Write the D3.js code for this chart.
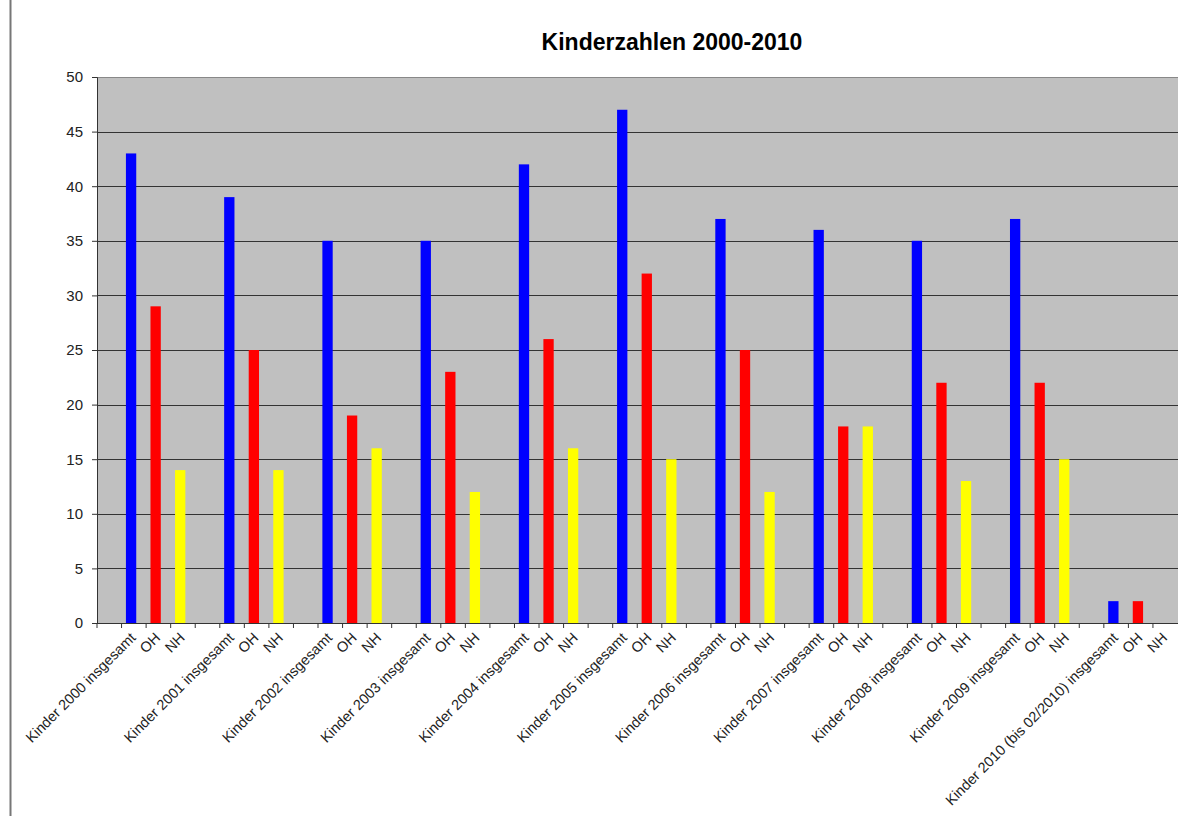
<!DOCTYPE html>
<html>
<head>
<meta charset="utf-8">
<script src="https://cdn.jsdelivr.net/npm/d3@7"></script>
<style>
  body { margin: 0; background: #fff; }
  svg { font-family: Arial, "Liberation Sans", sans-serif; }
</style>
</head>
<body>
<div id="chart"></div>
<script>
// years and per-year values (insgesamt, OH, NH)
const years = ['2000', '2001', '2002', '2003', '2004', '2005', '2006', '2007', '2008', '2009', '2010 (bis 02/2010)'];
const insgesamt = [43, 39, 35, 35, 42, 47, 37, 36, 35, 37, 2];
const oh = [29, 25, 19, 23, 26, 32, 25, 18, 22, 22, 2];
const nh = [14, 14, 16, 12, 16, 15, 12, 18, 13, 15, 0];
const yTicks = [0, 5, 10, 15, 20, 25, 30, 35, 40, 45, 50];
const colors = ['#0000ff', '#ff0000', '#ffff00'];

// each year: an empty slot, then insgesamt / OH / NH
const rows = [];
years.forEach((y, i) => {
  rows.push({ key: 'gap' + i, label: '', value: null });
  rows.push({ key: 'ins' + i, label: 'Kinder ' + y + ' insgesamt', value: insgesamt[i], c: colors[0] });
  rows.push({ key: 'oh' + i, label: 'OH', value: oh[i], c: colors[1] });
  rows.push({ key: 'nh' + i, label: 'NH', value: nh[i], c: colors[2] });
});

const width = 1179, height = 816;
const margin = { top: 77, right: 1, bottom: 193, left: 97 };

const svg = d3.select('#chart')
  .append('svg')
  .attr('width', width)
  .attr('height', height);

// left frame line
svg.append('line')
  .attr('x1', 10.5).attr('x2', 10.5)
  .attr('y1', 0).attr('y2', height)
  .attr('stroke', '#777').attr('stroke-width', 2);

svg.append('text')
  .attr('x', 672).attr('y', 50)
  .attr('text-anchor', 'middle')
  .style('font-size', '23px')
  .style('font-weight', 'bold')
  .text('Kinderzahlen 2000-2010');

const x = d3.scaleBand()
  .domain(rows.map(d => d.key))
  .range([margin.left, width - margin.right])
  .paddingInner(0.58)
  .paddingOuter(0.3);

const y = d3.scaleLinear()
  .domain([0, 50])
  .range([height - margin.bottom, margin.top]);

const plotRight = width - margin.right;

svg.append('rect')
  .attr('x', margin.left).attr('y', margin.top)
  .attr('width', plotRight - margin.left)
  .attr('height', y(0) - margin.top)
  .attr('fill', '#c0c0c0');

// grid lines
svg.append('g')
  .selectAll('line')
  .data(yTicks.filter(t => t > 0))
  .join('line')
  .attr('x1', margin.left).attr('x2', plotRight)
  .attr('y1', d => Math.round(y(d)) + 0.5)
  .attr('y2', d => Math.round(y(d)) + 0.5)
  .attr('stroke', d => d === 50 ? '#888' : '#333')
  .attr('stroke-width', 1);

// bars
svg.append('g')
  .selectAll('rect')
  .data(rows.filter(d => d.value !== null))
  .join('rect')
  .attr('x', d => x(d.key) - 3)
  .attr('y', d => y(d.value))
  .attr('width', x.bandwidth())
  .attr('height', d => y(0) - y(d.value))
  .attr('fill', d => d.c);

// y axis
const yAxis = svg.append('g')
  .attr('transform', `translate(${margin.left},0)`)
  .call(d3.axisLeft(y).tickValues(yTicks).tickSize(5).tickPadding(9));
yAxis.select('.domain').attr('stroke', '#333');
yAxis.selectAll('line').attr('stroke', '#333');
yAxis.selectAll('text').style('font-size', '15px').attr('fill', '#222');

// x axis: ticks between categories
const step = x.step();
const xg = svg.append('g')
  .attr('transform', `translate(0,${y(0)})`);
xg.append('line')
  .attr('x1', margin.left).attr('x2', plotRight)
  .attr('y1', 0.5).attr('y2', 0.5)
  .attr('stroke', '#333');
xg.selectAll('.tick')
  .data(rows)
  .join('line')
  .attr('class', 'tick')
  .attr('x1', d => x(d.key) - step * 0.3)
  .attr('x2', d => x(d.key) - step * 0.3)
  .attr('y1', 0).attr('y2', 5)
  .attr('stroke', '#333');

xg.selectAll('text')
  .data(rows)
  .join('text')
  .attr('transform', d => `translate(${x(d.key) + x.bandwidth() / 2 - 1},12) rotate(-45)`)
  .attr('text-anchor', 'end')
  .attr('dy', '0.35em')
  .style('font-size', '14.5px')
  .attr('fill', '#222')
  .text(d => d.label);
</script>
</body>
</html>
